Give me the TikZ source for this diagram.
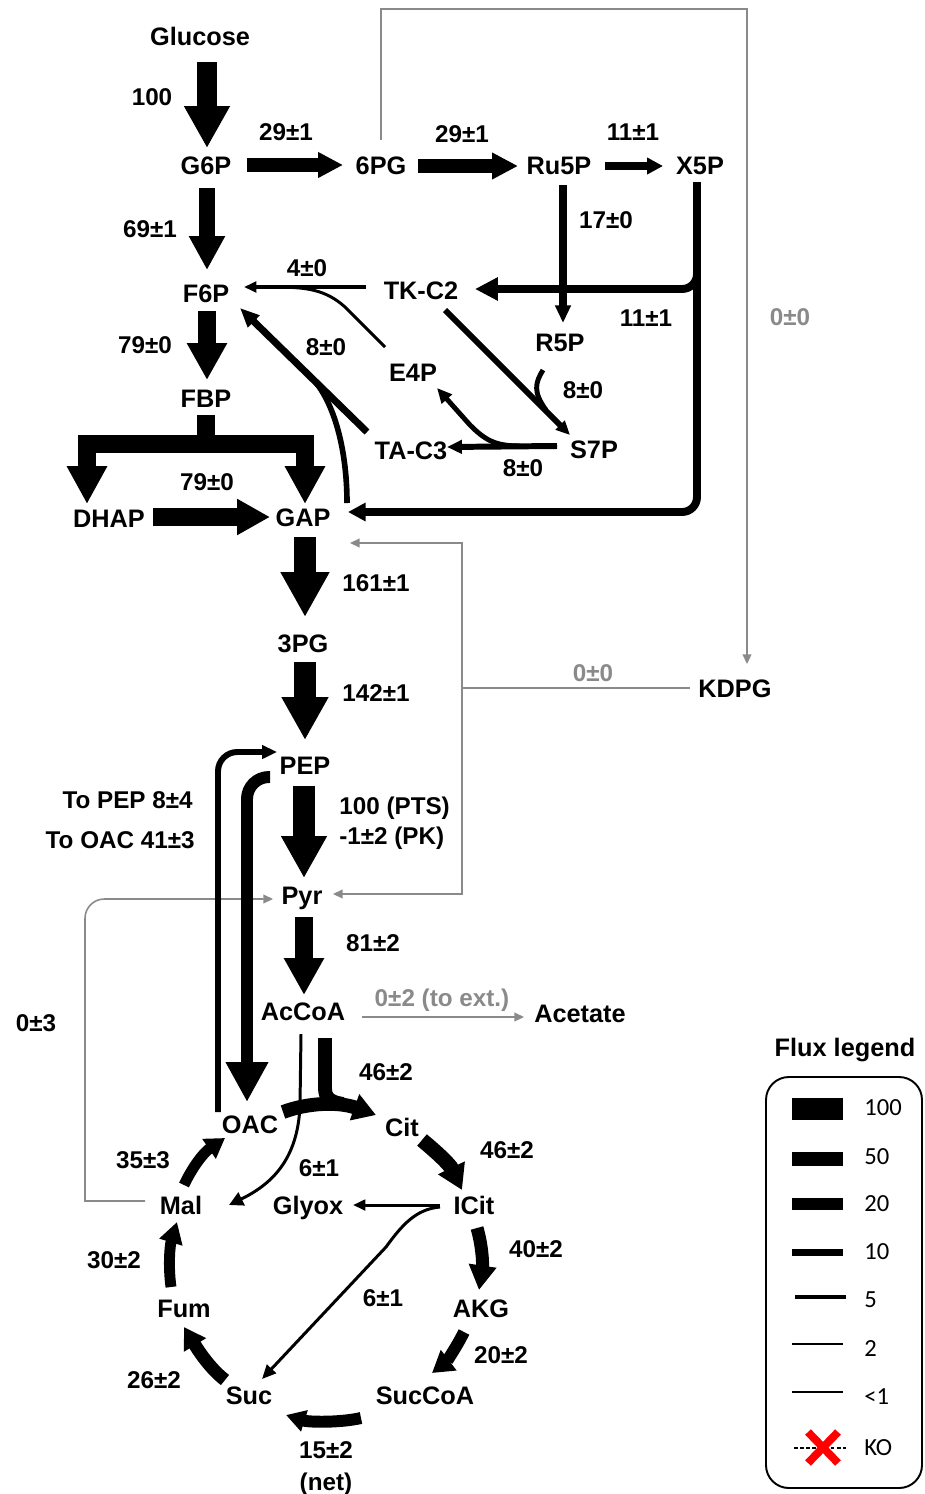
\documentclass[tikz,border=0pt]{standalone}
\usepackage{fontspec}
\setmainfont{Liberation Sans}
\newfontfamily\legendfont{Carlito}
\usetikzlibrary{arrows.meta,calc}
\definecolor{FluxGray}{HTML}{8A8A8A}
\definecolor{KORed}{HTML}{FF0000}
\tikzset{
  met/.style={font=\fontsize{14.4}{17}\selectfont\bfseries,inner sep=0pt,text height=10.3pt,text depth=0pt},
  val/.style={font=\fontsize{13.8}{16}\selectfont\bfseries,inner sep=0pt,text height=9.9pt,text depth=0pt},
  flux/.style n args={3}{line width=#1,-{Triangle[length=#2,width=#3]}},
  gflux/.style={draw=FluxGray,line width=0.9pt,-{Triangle[length=5.5pt,width=5pt]}},
  gboth/.style={draw=FluxGray,line width=0.9pt,{Triangle[length=5.5pt,width=5pt]}-{Triangle[length=5.5pt,width=5pt]}},
  gline/.style={draw=FluxGray,line width=0.9pt},
  leg/.style={font=\legendfont\fontsize{14}{16}\selectfont,inner sep=0pt,anchor=west},
}

\begin{document}
\begin{tikzpicture}[x=0.02cm,y=-0.02cm]
  \useasboundingbox (0,0) rectangle (924,1494);

  % metabolites
  \node[met] (glc) at (200,36) {Glucose};
  \node[met] (g6p) at (206,165) {G6P};
  \node[met] (pg6) at (381,165) {6PG};
  \node[met] (ru5p) at (559,165) {Ru5P};
  \node[met] (x5p) at (700,165) {X5P};
  \node[met] (f6p) at (206,293) {F6P};
  \node[met] (tkc2) at (421,290) {TK-C2};
  \node[met] (r5p) at (560,342) {R5P};
  \node[met] (e4p) at (413,372) {E4P};
  \node[met] (fbp) at (206,398) {FBP};
  \node[met] (tac3) at (411,450) {TA-C3};
  \node[met] (s7p) at (594,449) {S7P};
  \node[met] (dhap) at (109,518) {DHAP};
  \node[met] (gap) at (303,517) {GAP};
  \node[met] (pg3) at (303,643) {3PG};
  \node[met] (kdpg) at (735,688) {KDPG};
  \node[met] (pep) at (305,765) {PEP};
  \node[met] (pyr) at (302,895) {Pyr};
  \node[met] (accoa) at (303,1011) {AcCoA};
  \node[met] (ace) at (580,1013) {Acetate};
  \node[met] (oac) at (250,1124) {OAC};
  \node[met] (cit) at (402,1127) {Cit};
  \node[met] (mal) at (181,1205) {Mal};
  \node[met] (glx) at (308,1205) {Glyox};
  \node[met] (icit) at (474,1205) {ICit};
  \node[met] (fum) at (184,1308) {Fum};
  \node[met] (akg) at (481,1308) {AKG};
  \node[met] (suc) at (249,1395) {Suc};
  \node[met] (succoa) at (425,1395) {SucCoA};

  % flux values
  \node[val] (v1) at (152,97) {100};
  \node[val] (v2) at (286,132) {29±1};
  \node[val] (v3) at (462,134) {29±1};
  \node[val] (v4) at (633,132) {11±1};
  \node[val] (v5) at (150,229) {69±1};
  \node[val] (v6) at (606,220) {17±0};
  \node[val] (v7) at (307,268) {4±0};
  \node[val] (v8) at (646,318) {11±1};
  \node[val,FluxGray] (v9) at (790,317) {0±0};
  \node[val] (v10) at (145,345) {79±0};
  \node[val] (v11) at (326,347) {8±0};
  \node[val] (v12) at (583,390) {8±0};
  \node[val] (v13) at (523,468) {8±0};
  \node[val] (v14) at (207,482) {79±0};
  \node[val] (v15) at (376,583) {161±1};
  \node[val,FluxGray] (v16) at (593,673) {0±0};
  \node[val] (v17) at (376,693) {142±1};
  \node[val,anchor=east] (v18) at (193,800) {To PEP 8±4};
  \node[val,anchor=east] (v19) at (195,840) {To OAC 41±3};
  \node[val,anchor=west] (v20) at (339,806) {100 (PTS)};
  \node[val,anchor=west] (v21) at (339,836) {-1±2 (PK)};
  \node[val] (v22) at (373,943) {81±2};
  \node[val,FluxGray] (v23) at (442,998) {0±2 (to ext.)};
  \node[val] (v24) at (36,1023) {0±3};
  \node[val] (v25) at (386,1072) {46±2};
  \node[val] (v26) at (507,1150) {46±2};
  \node[val] (v27) at (143,1160) {35±3};
  \node[val] (v28) at (319,1168) {6±1};
  \node[val] (v29) at (536,1249) {40±2};
  \node[val] (v30) at (114,1260) {30±2};
  \node[val] (v31) at (383,1298) {6±1};
  \node[val] (v32) at (501,1355) {20±2};
  \node[val] (v33) at (154,1380) {26±2};
  \node[val] (v34) at (326,1450) {15±2};
  \node[val] (v35) at (326,1482) {(net)};

  % glycolysis
  \draw[flux={11.3pt}{23.8pt}{24.4pt}] ($(glc)+(7,26)$) -- ($(g6p)+(1,-17)$);
  \draw[flux={7.9pt}{14.2pt}{13.8pt}] ($(g6p)+(41,0)$) -- ($(pg6)+(-38,0)$);
  \draw[flux={9.6pt}{19.3pt}{19.3pt}] ($(g6p)+(1,23)$) -- ($(f6p)+(1,-23)$);
  \draw[flux={10.2pt}{21pt}{21.5pt}] ($(f6p)+(1,18)$) -- ($(fbp)+(1,-18)$);
  \coordinate (split) at ($(fbp)+(0,46)$);
  \draw[line width=10.8pt] ($(fbp)+(0,17)$) -- (split);
  \draw[flux={10.8pt}{21.5pt}{21.5pt},line join=miter] (split) -| ($(dhap)+(-22,-14)$);
  \draw[flux={10.8pt}{21.5pt}{21.5pt},line join=miter] (split) -| ($(gap)+(2,-13)$);
  \draw[flux={10.2pt}{18.7pt}{19.3pt}] ($(dhap)+(44,-1)$) -- ($(gap)+(-33,0)$);
  \draw[flux={12.5pt}{25.5pt}{26pt}] ($(gap)+(2,20)$) -- ($(pg3)+(2,-26)$);
  \draw[flux={13pt}{24.4pt}{25pt}] ($(pg3)+(2,19)$) -- ($(pep)+(0,-25)$);
  \draw[flux={12.5pt}{23.8pt}{24.4pt}] ($(pep)+(-1,21)$) -- ($(pyr)+(2,-17)$);
  \draw[flux={10.8pt}{21pt}{21.5pt}] ($(pyr)+(2,22)$) -- ($(accoa)+(1,-16)$);

  % pentose phosphate
  \draw[flux={7.9pt}{14.7pt}{14.2pt}] ($(pg6)+(37,1)$) -- ($(ru5p)+(-41,1)$);
  \draw[flux={4.4pt}{9pt}{9pt}] ($(ru5p)+(46,1)$) -- ($(x5p)+(-37,1)$);
  \draw[flux={4pt}{10pt}{8.5pt}] ($(ru5p)+(4,20)$) -- ($(r5p)+(3,-19)$);
  \coordinate (xsplit) at ($(x5p)+(-3,17)$);
  \draw[flux={4.5pt}{13pt}{12.5pt},rounded corners=8.5pt] (xsplit) |- ($(tkc2)+(54,-1)$);
  \draw[flux={4.5pt}{10pt}{10pt},rounded corners=8.5pt] (xsplit) |- ($(gap)+(45,-5)$);
  \draw[flux={3.4pt}{8pt}{7pt}] ($(tkc2)+(24,20)$) -- ($(s7p)+(-24,-14)$);
  \draw[line width=2.8pt] ($(r5p)+(-17,28)$) .. controls ($(r5p)+(-25,41)$) and ($(r5p)+(-27,50)$) .. ($(r5p)+(-14,68)$);
  \draw[flux={3.4pt}{8.5pt}{7.5pt}] ($(s7p)+(-37,-3)$) -- ($(tac3)+(36,-3)$);
  \draw[flux={2.8pt}{8.5pt}{7.5pt}] ($(s7p)+(-74,-3)$) .. controls ($(s7p)+(-99,-3)$) and ($(s7p)+(-109,-9)$) .. ($(s7p)+(-124,-24)$) -- ($(e4p)+(24,16)$);
  \draw[flux={4pt}{11pt}{9pt}] ($(tac3)+(-44,-18)$) -- ($(f6p)+(34,15)$);
  \draw[line width=3.2pt] ($(gap)+(44,-14)$) .. controls ($(gap)+(44,-72)$) and ($(gap)+(29,-120)$) .. ($(gap)+(7,-141)$);
  \draw[flux={2pt}{7pt}{6pt}] ($(tkc2)+(-55,-3)$) -- ($(f6p)+(38,-6)$);
  \draw[line width=1.7pt] ($(e4p)+(-28,-25)$) -- ($(e4p)+(-68,-65)$) .. controls ($(e4p)+(-88,-83)$) and ($(e4p)+(-108,-85)$) .. ($(e4p)+(-140,-85)$);

  % grey routes
  \coordinate (topright) at (747,9);
  \draw[gflux] ($(pg6)+(0,-25)$) |- (topright) -- ($(kdpg)+(12,-24)$);
  \coordinate (edsplit) at (462,688);
  \draw[gline] ($(kdpg)+(-45,0)$) -- (edsplit);
  \draw[gboth] ($(gap)+(47,26)$) -| (edsplit) |- ($(pyr)+(31,-1)$);
  \coordinate (malbend) at (85,1201);
  \draw[gflux] ($(mal)+(-36,-4)$) -- (malbend) [rounded corners=11pt] |- ($(pyr)+(-29,4)$);
  \draw[gflux] ($(accoa)+(59,6)$) -- ($(ace)+(-56,4)$);

  % anaplerosis
  \draw[flux={3.4pt}{8.5pt}{7.5pt},rounded corners=11pt] ($(oac)+(-32,-12)$) |- ($(pep)+(-28,-13)$);
  \draw[flux={6.8pt}{22.7pt}{22.7pt},rounded corners=12.5pt] ($(pep)+(-35,12)$) -| ($(oac)+(-3,-22)$);

  % TCA cycle and glyoxylate shunt
  \draw[flux={1.7pt}{8pt}{8pt}] ($(accoa)+(-2,23)$) -- ($(accoa)+(-3,94)$) .. controls ($(accoa)+(-5,150)$) and ($(mal)+(89,-20)$) .. ($(mal)+(48,0)$);
  \draw[flux={7.9pt}{13pt}{15pt}] ($(oac)+(33,-12)$) .. controls ($(oac)+(60,-22)$) and ($(cit)+(-62,-25)$) .. ($(cit)+(-26,-12)$);
  \draw[line width=7.9pt] ($(accoa)+(22,27)$) -- ($(accoa)+(22,77)$) .. controls ($(accoa)+(22,87)$) and ($(accoa)+(27,91)$) .. ($(accoa)+(40,93)$);
  \draw[flux={8.5pt}{14pt}{16pt}] ($(cit)+(20,13)$) .. controls ($(cit)+(38,28)$) and ($(icit)+(-24,-40)$) .. ($(icit)+(-12,-15)$);
  \draw[flux={7.4pt}{14pt}{15pt}] ($(icit)+(3,23)$) .. controls ($(icit)+(8,40)$) and ($(akg)+(2,-45)$) .. ($(akg)+(-2,-18)$);
  \draw[flux={6.8pt}{12pt}{14pt}] ($(akg)+(-17,24)$) .. controls ($(akg)+(-26,42)$) and ($(succoa)+(20,-32)$) .. ($(succoa)+(7,-22)$);
  \draw[flux={6.8pt}{11pt}{12pt}] ($(succoa)+(-64,23)$) .. controls ($(succoa)+(-86,28)$) and ($(suc)+(59,27)$) .. ($(suc)+(37,20)$);
  \draw[flux={7.4pt}{12pt}{14pt}] ($(suc)+(-24,-15)$) .. controls ($(suc)+(-41,-28)$) and ($(fum)+(11,37)$) .. ($(fum)+(0,19)$);
  \draw[flux={6.2pt}{12pt}{13pt}] ($(fum)+(-13,-21)$) .. controls ($(fum)+(-16,-43)$) and ($(mal)+(-11,40)$) .. ($(mal)+(-4,17)$);
  \draw[flux={6.2pt}{11pt}{13pt}] ($(mal)+(3,-20)$) .. controls ($(mal)+(11,-37)$) and ($(oac)+(-47,29)$) .. ($(oac)+(-25,14)$);
  \draw[flux={1.7pt}{7pt}{6pt}] ($(icit)+(-34,0)$) -- ($(glx)+(45,0)$);
  \draw[flux={1.7pt}{8pt}{7pt}] ($(icit)+(-34,2)$) .. controls ($(icit)+(-58,4)$) and ($(icit)+(-72,20)$) .. ($(icit)+(-88,42)$) -- ($(suc)+(13,-16)$);

  % legend
  \node[met] (legtitle) at (845,1047) {Flux legend};
  \draw[line width=1.1pt,rounded corners=13pt] (766,1077) rectangle (922,1488);
  \draw[line width=12.5pt] (792,1109) -- (843,1109);
  \draw[line width=7.9pt] (792,1159) -- (843,1159);
  \draw[line width=6.5pt] (792,1204) -- (843,1204);
  \draw[line width=4pt] (792,1252) -- (843,1252);
  \draw[line width=2.3pt] (795,1297) -- (846,1297);
  \draw[line width=1.4pt] (792,1344) -- (843,1344);
  \draw[line width=0.85pt] (792,1392) -- (843,1392);
  \draw[line width=0.6pt,dash pattern=on 2pt off 1.5pt] (794,1448) -- (846,1448);
  \draw[KORed,line width=4.5pt] (808,1432) -- (838,1463) (808,1463) -- (838,1432);
  \node[leg] (l100) at (864,1108) {100};
  \node[leg] (l50) at (864,1157) {50};
  \node[leg] (l20) at (864,1204) {20};
  \node[leg] (l10) at (864,1252) {10};
  \node[leg] (l5) at (864,1300) {5};
  \node[leg] (l2) at (864,1349) {2};
  \node[leg] (l1) at (864,1397) {<1};
  \node[leg] (lko) at (864,1448) {KO};
\end{tikzpicture}
\end{document}
